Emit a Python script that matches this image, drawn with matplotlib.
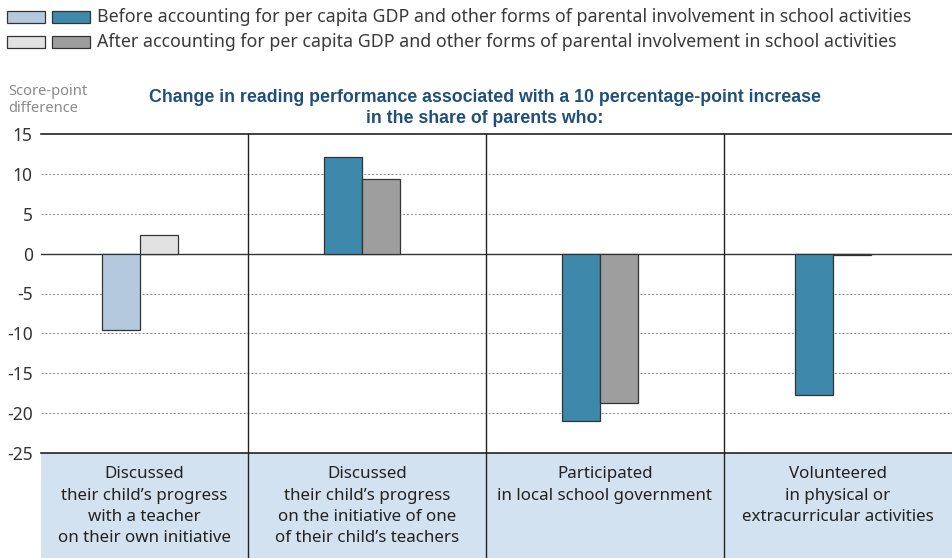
import numpy as np
import matplotlib
matplotlib.use("Agg")
import matplotlib.pyplot as plt
from matplotlib.patches import Rectangle
import matplotlib.transforms as mtransforms

plt.rcParams['font.family'] = ['Noto Sans', 'DejaVu Sans']

categories = [
    "Discussed\ntheir child\u2019s progress\nwith a teacher\non their own initiative",
    "Discussed\ntheir child\u2019s progress\non the initiative of one\nof their child\u2019s teachers",
    "Participated\nin local school government",
    "Volunteered\nin physical or\nextracurricular activities",
]
before = [-9.6, 12.1, -21.0, -17.7]
after = [2.3, 9.4, -18.7, -0.2]
# significant estimates get the dark shade
before_sig = [False, True, True, True]
after_sig = [False, True, True, True]

legend_labels = [
    "Before accounting for per capita GDP and other forms of parental involvement in school activities",
    "After accounting for per capita GDP and other forms of parental involvement in school activities",
]
title = ("Change in reading performance associated with a 10 percentage-point increase\n"
         "in the share of parents who:")
yticks = [15, 10, 5, 0, -5, -10, -15, -20, -25]

LIGHT_BLUE = "#b4c9de"
DARK_BLUE = "#3d88ab"
LIGHT_GREY = "#e2e2e2"
DARK_GREY = "#9e9e9e"
EDGE = "#333333"
BAND = "#d3e2f0"

W, H = 952, 558
fig = plt.figure(figsize=(W / 100, H / 100), dpi=100)
ax = fig.add_axes([41 / W, (H - 453) / H, (W - 41) / W, (453 - 134) / H])

xlim = (-0.37, 3.46)
ax.set_xlim(*xlim)
ax.set_ylim(-25, 15)
dividers = np.arange(len(categories) - 1) + 0.5
edges = np.concatenate([[xlim[0]], dividers, [xlim[1]]])
cell_mid = (edges[:-1] + edges[1:]) / 2
centers = cell_mid - 0.02

bw = 0.16
for i, c in enumerate(centers):
    ax.bar(c - bw / 2, before[i], bw, color=DARK_BLUE if before_sig[i] else LIGHT_BLUE,
           edgecolor=EDGE, linewidth=0.9, zorder=3)
    ax.bar(c + bw / 2, after[i], bw, color=DARK_GREY if after_sig[i] else LIGHT_GREY,
           edgecolor=EDGE, linewidth=0.9, zorder=3)

# gridlines and frame
for v in yticks:
    if v in (15, -25):
        ax.axhline(v, color="#222222", lw=1.2, zorder=4, clip_on=False)
    elif v == 0:
        ax.axhline(v, color="#333333", lw=1.0, zorder=2)
    else:
        ax.axhline(v, color="#888888", lw=0.7, ls=(0, (2, 2)), zorder=1)

for s in ax.spines.values():
    s.set_visible(False)
ax.set_xticks([])
ax.set_yticks(yticks)
ax.set_yticklabels([str(v) for v in yticks], fontsize=12.5, color="#333333")
ax.tick_params(axis="y", length=0, pad=6)

# category band below the plot
trans = mtransforms.blended_transform_factory(ax.transData, ax.transAxes)
band_h = (H - 453) / (453 - 134)
ax.add_patch(Rectangle((xlim[0], -band_h), xlim[1] - xlim[0], band_h, transform=trans,
                       facecolor=BAND, edgecolor="none", clip_on=False, zorder=0))
for d in dividers:
    ax.plot([d, d], [-band_h, 1], transform=trans, color="#222222", lw=1.0,
            clip_on=False, zorder=4)
for c, lab in zip(cell_mid, categories):
    ax.text(c, -0.042, lab, transform=trans, ha="center", va="top", fontsize=12.2,
            color="#222222", linespacing=1.43)

# axis caption and title
fig.text(8 / W, 1 - 84 / H, "Score-point\ndifference", ha="left", va="top",
         fontsize=10.6, color="#8a8a8a", linespacing=1.2)
fig.text(485 / W, 1 - 89 / H, title, ha="center", va="top", fontsize=12.8,
         fontweight="bold", color="#1f4f7c", family="Liberation Sans", linespacing=1.3)

# legend
rows = [(LIGHT_BLUE, DARK_BLUE, 17), (LIGHT_GREY, DARK_GREY, 42)]
for (c1, c2, yc), lab in zip(rows, legend_labels):
    for x0, col in ((7, c1), (52, c2)):
        fig.patches.append(Rectangle((x0 / W, 1 - (yc + 5.5) / H), 38 / W, 11 / H,
                                     transform=fig.transFigure, facecolor=col,
                                     edgecolor=EDGE, lw=0.9))
    fig.text(97 / W, 1 - yc / H, lab, ha="left", va="center", fontsize=12.8,
             color="#3a3a3a")

fig.savefig("out.png", dpi=100)
